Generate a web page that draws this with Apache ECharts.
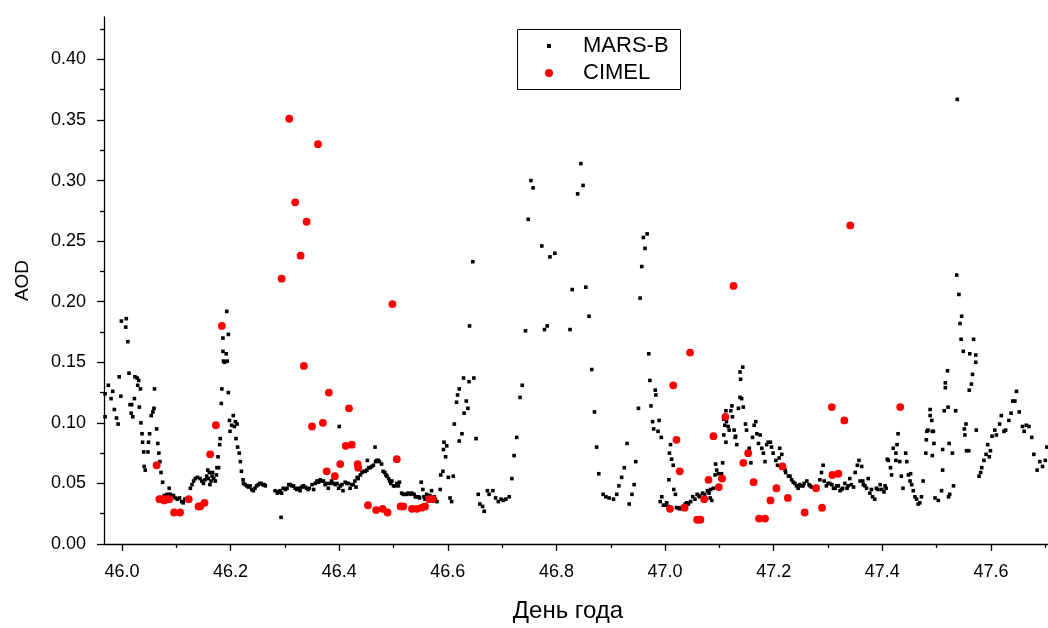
<!DOCTYPE html>
<html>
<head>
<meta charset="utf-8">
<script src="https://cdn.jsdelivr.net/npm/echarts@6/dist/echarts.min.js"></script>
<style>html,body{margin:0;padding:0;background:#fff}#c{width:1048px;height:628px}</style>
</head>
<body>
<div id="c"></div>
<script>
// X tick labels (day of year) and minor ticks
const xTicks = [46.0, 46.2, 46.4, 46.6, 46.8, 47.0, 47.2, 47.4, 47.6];
const xMinor = [46.1, 46.3, 46.5, 46.7, 46.9, 47.1, 47.3, 47.5, 47.7];
// Y tick labels (AOD) and minor ticks
const yTicks = [0.00, 0.05, 0.10, 0.15, 0.20, 0.25, 0.30, 0.35, 0.40];
const yMinor = [0.025, 0.075, 0.125, 0.175, 0.225, 0.275, 0.325, 0.375, 0.425];

// MARS-B series: [day, AOD]
const marsB = [
[45.969,0.105],[45.969,0.124],[45.975,0.131],[45.980,0.120],[45.983,0.126],[45.986,0.111],[45.990,0.104],[45.993,0.099],[45.995,0.138],[45.998,0.122],[45.999,0.184],[46.007,0.179],[46.008,0.186],[46.011,0.167],[46.013,0.141],[46.015,0.115],[46.017,0.108],[46.018,0.115],[46.020,0.105],[46.023,0.120],[46.024,0.138],[46.028,0.137],[46.029,0.131],[46.031,0.135],[46.032,0.113],[46.034,0.128],[46.035,0.100],[46.037,0.091],[46.038,0.084],[46.040,0.076],[46.041,0.064],[46.043,0.061],[46.048,0.076],[46.049,0.084],[46.051,0.091],[46.054,0.106],[46.057,0.109],[46.059,0.112],[46.060,0.128],[46.064,0.095],[46.066,0.083],[46.068,0.075],[46.070,0.068],[46.072,0.059],[46.075,0.051],[46.078,0.040],[46.083,0.041],[46.087,0.046],[46.089,0.041],[46.095,0.040],[46.098,0.038],[46.102,0.037],[46.106,0.038],[46.110,0.035],[46.113,0.034],[46.116,0.037],[46.126,0.046],[46.129,0.049],[46.132,0.052],[46.135,0.054],[46.139,0.055],[46.144,0.054],[46.147,0.052],[46.150,0.050],[46.153,0.053],[46.156,0.056],[46.158,0.061],[46.159,0.054],[46.161,0.059],[46.162,0.049],[46.164,0.052],[46.166,0.056],[46.167,0.059],[46.169,0.054],[46.172,0.052],[46.174,0.057],[46.175,0.063],[46.177,0.072],[46.178,0.063],[46.180,0.082],[46.181,0.087],[46.183,0.116],[46.184,0.128],[46.186,0.159],[46.186,0.170],[46.187,0.151],[46.189,0.150],[46.192,0.157],[46.193,0.192],[46.194,0.151],[46.196,0.173],[46.196,0.125],[46.198,0.102],[46.199,0.093],[46.202,0.098],[46.205,0.106],[46.207,0.097],[46.209,0.101],[46.210,0.087],[46.212,0.099],[46.213,0.080],[46.216,0.075],[46.218,0.068],[46.220,0.060],[46.223,0.053],[46.224,0.050],[46.227,0.049],[46.230,0.048],[46.233,0.047],[46.236,0.048],[46.239,0.045],[46.242,0.044],[46.245,0.046],[46.248,0.048],[46.251,0.049],[46.254,0.050],[46.256,0.050],[46.259,0.049],[46.262,0.049],[46.264,0.048],[46.282,0.044],[46.286,0.042],[46.288,0.043],[46.290,0.043],[46.291,0.044],[46.293,0.022],[46.294,0.042],[46.297,0.046],[46.301,0.045],[46.304,0.046],[46.307,0.049],[46.310,0.049],[46.313,0.048],[46.316,0.048],[46.319,0.046],[46.322,0.045],[46.325,0.046],[46.328,0.044],[46.331,0.047],[46.334,0.048],[46.337,0.047],[46.340,0.046],[46.343,0.045],[46.345,0.046],[46.350,0.049],[46.353,0.045],[46.356,0.050],[46.359,0.052],[46.362,0.051],[46.365,0.053],[46.368,0.052],[46.371,0.052],[46.374,0.049],[46.377,0.050],[46.380,0.046],[46.383,0.050],[46.386,0.052],[46.389,0.050],[46.393,0.049],[46.396,0.050],[46.399,0.046],[46.400,0.097],[46.402,0.048],[46.405,0.049],[46.407,0.044],[46.411,0.051],[46.414,0.050],[46.417,0.050],[46.420,0.046],[46.423,0.049],[46.426,0.049],[46.429,0.052],[46.431,0.047],[46.433,0.055],[46.435,0.054],[46.439,0.057],[46.442,0.059],[46.445,0.060],[46.448,0.060],[46.451,0.061],[46.452,0.069],[46.454,0.063],[46.457,0.063],[46.460,0.064],[46.463,0.065],[46.466,0.080],[46.467,0.068],[46.469,0.069],[46.472,0.069],[46.474,0.068],[46.478,0.066],[46.481,0.060],[46.484,0.059],[46.486,0.057],[46.488,0.056],[46.491,0.054],[46.493,0.052],[46.495,0.050],[46.497,0.052],[46.500,0.048],[46.503,0.048],[46.506,0.050],[46.509,0.048],[46.511,0.051],[46.515,0.042],[46.518,0.041],[46.521,0.041],[46.524,0.041],[46.527,0.042],[46.531,0.041],[46.534,0.042],[46.538,0.041],[46.540,0.039],[46.543,0.039],[46.546,0.039],[46.548,0.038],[46.551,0.051],[46.554,0.045],[46.556,0.039],[46.558,0.037],[46.561,0.041],[46.564,0.039],[46.567,0.040],[46.570,0.044],[46.575,0.039],[46.577,0.037],[46.580,0.035],[46.586,0.045],[46.587,0.057],[46.591,0.060],[46.592,0.078],[46.593,0.084],[46.596,0.072],[46.598,0.081],[46.601,0.055],[46.604,0.038],[46.607,0.035],[46.610,0.056],[46.612,0.099],[46.616,0.117],[46.618,0.123],[46.621,0.085],[46.621,0.128],[46.626,0.091],[46.629,0.137],[46.630,0.108],[46.634,0.118],[46.637,0.112],[46.639,0.134],[46.640,0.180],[46.646,0.233],[46.648,0.137],[46.652,0.087],[46.656,0.041],[46.659,0.033],[46.664,0.031],[46.667,0.027],[46.673,0.044],[46.676,0.041],[46.683,0.044],[46.688,0.038],[46.693,0.035],[46.698,0.037],[46.702,0.036],[46.707,0.037],[46.713,0.039],[46.718,0.054],[46.722,0.073],[46.727,0.088],[46.733,0.121],[46.737,0.131],[46.743,0.176],[46.748,0.268],[46.753,0.300],[46.757,0.294],[46.773,0.246],[46.778,0.177],[46.783,0.180],[46.788,0.237],[46.797,0.240],[46.825,0.177],[46.829,0.210],[46.839,0.289],[46.845,0.314],[46.849,0.296],[46.854,0.212],[46.860,0.188],[46.865,0.144],[46.870,0.109],[46.874,0.080],[46.878,0.058],[46.886,0.041],[46.891,0.039],[46.897,0.038],[46.905,0.037],[46.911,0.041],[46.915,0.048],[46.920,0.055],[46.925,0.063],[46.930,0.083],[46.934,0.033],[46.939,0.041],[46.943,0.049],[46.946,0.068],[46.951,0.112],[46.954,0.203],[46.957,0.229],[46.960,0.253],[46.963,0.244],[46.967,0.256],[46.970,0.157],[46.972,0.135],[46.974,0.114],[46.977,0.101],[46.979,0.095],[46.982,0.127],[46.983,0.123],[46.987,0.093],[46.989,0.102],[46.991,0.035],[46.993,0.088],[46.994,0.039],[46.997,0.032],[47.000,0.032],[47.003,0.034],[47.006,0.031],[47.007,0.053],[47.008,0.075],[47.010,0.082],[47.012,0.070],[47.015,0.065],[47.016,0.045],[47.019,0.041],[47.021,0.030],[47.024,0.030],[47.027,0.029],[47.031,0.030],[47.034,0.031],[47.037,0.033],[47.040,0.034],[47.043,0.033],[47.047,0.035],[47.051,0.039],[47.055,0.037],[47.059,0.041],[47.062,0.040],[47.064,0.039],[47.069,0.042],[47.073,0.041],[47.078,0.044],[47.081,0.042],[47.083,0.038],[47.084,0.045],[47.086,0.036],[47.089,0.046],[47.092,0.057],[47.093,0.066],[47.095,0.061],[47.098,0.058],[47.101,0.054],[47.104,0.058],[47.106,0.067],[47.108,0.090],[47.108,0.103],[47.110,0.098],[47.112,0.084],[47.112,0.110],[47.113,0.101],[47.116,0.097],[47.118,0.094],[47.121,0.110],[47.123,0.114],[47.124,0.105],[47.127,0.094],[47.129,0.088],[47.130,0.089],[47.132,0.082],[47.135,0.112],[47.138,0.121],[47.138,0.142],[47.139,0.136],[47.141,0.120],[47.143,0.146],[47.144,0.113],[47.148,0.099],[47.150,0.094],[47.155,0.079],[47.158,0.067],[47.161,0.088],[47.164,0.098],[47.167,0.101],[47.169,0.091],[47.172,0.083],[47.175,0.090],[47.178,0.079],[47.181,0.075],[47.184,0.068],[47.187,0.082],[47.190,0.084],[47.194,0.084],[47.196,0.080],[47.199,0.075],[47.204,0.069],[47.207,0.065],[47.210,0.071],[47.211,0.079],[47.215,0.074],[47.218,0.065],[47.221,0.061],[47.222,0.059],[47.227,0.056],[47.230,0.056],[47.233,0.053],[47.236,0.051],[47.239,0.050],[47.242,0.048],[47.245,0.046],[47.248,0.049],[47.251,0.048],[47.254,0.048],[47.256,0.050],[47.261,0.052],[47.265,0.049],[47.267,0.048],[47.270,0.047],[47.285,0.053],[47.288,0.059],[47.291,0.065],[47.293,0.052],[47.297,0.048],[47.300,0.050],[47.303,0.050],[47.307,0.049],[47.310,0.046],[47.313,0.046],[47.316,0.048],[47.319,0.048],[47.322,0.044],[47.325,0.045],[47.327,0.046],[47.331,0.050],[47.335,0.046],[47.337,0.048],[47.340,0.054],[47.343,0.049],[47.347,0.047],[47.350,0.059],[47.354,0.065],[47.357,0.069],[47.359,0.052],[47.362,0.064],[47.364,0.052],[47.365,0.049],[47.368,0.048],[47.371,0.046],[47.374,0.054],[47.377,0.042],[47.380,0.045],[47.382,0.039],[47.386,0.037],[47.389,0.046],[47.392,0.045],[47.396,0.049],[47.399,0.045],[47.403,0.043],[47.405,0.048],[47.407,0.046],[47.409,0.070],[47.411,0.069],[47.415,0.063],[47.417,0.057],[47.420,0.079],[47.425,0.075],[47.425,0.069],[47.427,0.082],[47.429,0.091],[47.432,0.068],[47.435,0.056],[47.438,0.046],[47.443,0.075],[47.445,0.068],[47.448,0.057],[47.451,0.052],[47.452,0.058],[47.454,0.049],[47.457,0.044],[47.460,0.039],[47.463,0.037],[47.466,0.033],[47.469,0.034],[47.472,0.039],[47.475,0.052],[47.480,0.075],[47.481,0.086],[47.482,0.093],[47.484,0.094],[47.488,0.106],[47.488,0.111],[47.491,0.102],[47.492,0.093],[47.492,0.073],[47.494,0.093],[47.495,0.083],[47.497,0.038],[47.503,0.036],[47.509,0.044],[47.511,0.061],[47.511,0.078],[47.514,0.110],[47.516,0.129],[47.516,0.133],[47.520,0.143],[47.521,0.113],[47.522,0.039],[47.523,0.083],[47.524,0.041],[47.529,0.075],[47.531,0.048],[47.535,0.110],[47.537,0.222],[47.538,0.367],[47.541,0.206],[47.543,0.182],[47.545,0.169],[47.546,0.188],[47.549,0.159],[47.551,0.095],[47.552,0.090],[47.554,0.099],[47.555,0.077],[47.559,0.077],[47.560,0.127],[47.561,0.157],[47.564,0.132],[47.566,0.140],[47.568,0.169],[47.572,0.156],[47.572,0.150],[47.573,0.094],[47.578,0.056],[47.581,0.059],[47.583,0.063],[47.587,0.069],[47.591,0.074],[47.594,0.082],[47.597,0.072],[47.599,0.077],[47.602,0.089],[47.607,0.094],[47.610,0.090],[47.616,0.099],[47.619,0.106],[47.624,0.093],[47.627,0.094],[47.633,0.102],[47.637,0.108],[47.640,0.118],[47.644,0.118],[47.647,0.126],[47.652,0.109],[47.658,0.097],[47.661,0.093],[47.665,0.098],[47.670,0.097],[47.675,0.088],[47.679,0.074],[47.685,0.061],[47.690,0.068],[47.695,0.064],[47.700,0.069],[47.703,0.080]
];

// CIMEL series: [day, AOD]
const cimel = [
[46.064,0.065],[46.069,0.037],[46.074,0.037],[46.078,0.036],[46.084,0.037],[46.087,0.037],[46.096,0.026],[46.107,0.026],[46.123,0.037],[46.141,0.031],[46.144,0.031],[46.152,0.034],[46.1625,0.074],[46.173,0.098],[46.184,0.180],
[46.294,0.219],[46.308,0.351],[46.319,0.282],[46.329,0.238],[46.335,0.147],[46.340,0.266],[46.350,0.097],[46.361,0.330],[46.370,0.100],[46.377,0.060],[46.381,0.125],[46.392,0.056],[46.402,0.066],[46.412,0.081],[46.418,0.112],[46.423,0.082],[46.434,0.066],[46.435,0.063],[46.453,0.032],[46.468,0.028],[46.480,0.029],[46.489,0.026],[46.498,0.198],[46.506,0.070],[46.513,0.031],[46.518,0.031],[46.534,0.029],[46.543,0.029],[46.552,0.030],[46.558,0.031],[46.566,0.037],[46.572,0.037],
[47.009,0.029],[47.015,0.131],[47.021,0.086],[47.027,0.060],[47.036,0.030],[47.046,0.158],[47.059,0.020],[47.065,0.020],[47.072,0.037],[47.080,0.053],[47.089,0.089],[47.099,0.047],[47.105,0.054],[47.111,0.105],[47.126,0.213],[47.144,0.067],[47.153,0.075],[47.163,0.051],[47.173,0.021],[47.184,0.021],[47.194,0.036],[47.205,0.046],[47.216,0.064],[47.226,0.038],[47.257,0.026],[47.278,0.046],[47.289,0.030],[47.307,0.113],[47.308,0.057],[47.319,0.058],[47.330,0.102],[47.341,0.263],[47.433,0.113]
];

const FONT = 'Liberation Sans, Arial, sans-serif';
const chart = echarts.init(document.getElementById('c'), null, {renderer: 'canvas'});
const axisLine = {show: true, onZero: false, lineStyle: {color: '#000', width: 1.3}};
chart.setOption({
  animation: false,
  backgroundColor: '#fff',
  grid: {left: 104, right: 0, top: 17, bottom: 78, containLabel: false},
  xAxis: [{
    type: 'value', min: 45.967, max: 47.705, position: 'bottom',
    axisLine: axisLine,
    axisTick: {show: true, customValues: xTicks, length: 7, inside: false, lineStyle: {color: '#000', width: 1.3}},
    axisLabel: {show: true, customValues: xTicks, formatter: v => v.toFixed(1), fontFamily: FONT, fontSize: 18, color: '#000', margin: 19},
    splitLine: {show: false},
    name: 'День года', nameLocation: 'middle', nameGap: 55,
    nameTextStyle: {fontFamily: FONT, fontSize: 24, color: '#000', padding: [0, 16, 0, 0]}
  }, {
    type: 'value', min: 45.967, max: 47.705, position: 'bottom', offset: 0,
    axisLine: {show: false},
    axisTick: {show: true, customValues: xMinor, length: 4, lineStyle: {color: '#000', width: 1.3}},
    axisLabel: {show: false},
    splitLine: {show: false}
  }],
  yAxis: [{
    type: 'value', min: 0, max: 0.435, position: 'left',
    axisLine: axisLine,
    axisTick: {show: true, customValues: yTicks, length: 7, lineStyle: {color: '#000', width: 1.3}},
    axisLabel: {show: true, customValues: yTicks, formatter: v => v.toFixed(2), fontFamily: FONT, fontSize: 18, color: '#000', margin: 18},
    splitLine: {show: false},
    name: 'AOD', nameLocation: 'middle', nameGap: 72,
    nameTextStyle: {fontFamily: FONT, fontSize: 19, color: '#000'}
  }, {
    type: 'value', min: 0, max: 0.435, position: 'left', offset: 0,
    axisLine: {show: false},
    axisTick: {show: true, customValues: yMinor, length: 4, lineStyle: {color: '#000', width: 1.3}},
    axisLabel: {show: false},
    splitLine: {show: false}
  }],
  legend: [{
    data: [{name: 'MARS-B', icon: 'rect'}], orient: 'vertical', left: 547, top: 34, padding: 0,
    itemWidth: 4, itemHeight: 4, selectedMode: false,
    itemStyle: {opacity: 1},
    textStyle: {fontFamily: FONT, fontSize: 22, color: '#000', lineHeight: 24, padding: [0, 0, 0, 27]}
  }, {
    data: [{name: 'CIMEL', icon: 'circle'}], orient: 'vertical', left: 545, top: 61, padding: 0,
    itemWidth: 8, itemHeight: 8, selectedMode: false,
    itemStyle: {opacity: 1},
    textStyle: {fontFamily: FONT, fontSize: 22, color: '#000', lineHeight: 24, padding: [0, 0, 0, 25]}
  }],
  graphic: [{
    type: 'rect', z: 0, silent: true,
    shape: {x: 517.5, y: 29.5, width: 163, height: 60},
    style: {fill: 'none', stroke: '#000', lineWidth: 1}
  }],
  series: [{
    name: 'MARS-B', type: 'scatter', xAxisIndex: 0, yAxisIndex: 0,
    symbol: 'rect', symbolSize: 3.6, itemStyle: {color: '#000', opacity: 1},
    data: marsB
  }, {
    name: 'CIMEL', type: 'scatter', xAxisIndex: 0, yAxisIndex: 0,
    symbol: 'circle', symbolSize: 7.8, itemStyle: {color: '#ff0000', opacity: 1},
    data: cimel
  }]
});
</script>
</body>
</html>
